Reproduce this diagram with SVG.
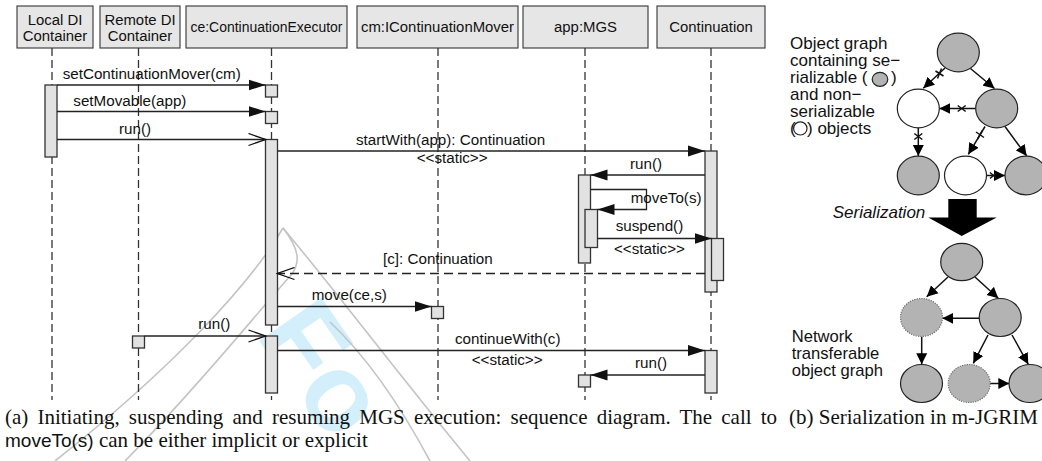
<svg xmlns="http://www.w3.org/2000/svg" width="1042" height="461" viewBox="0 0 1042 461">
<style>
  .hdr { fill:#e6e6e6; stroke:#444; stroke-width:1.2; }
  .life { stroke:#333; stroke-width:1.3; stroke-dasharray:8 4; fill:none; }
  .act { fill:#e2e2e2; stroke:#333; stroke-width:1.3; }
  .msg { stroke:#222; stroke-width:1.3; fill:none; }
  .ret { stroke:#222; stroke-width:1.3; fill:none; stroke-dasharray:9 5; }
  .sync { marker-end:url(#filled); }
  .async { marker-end:url(#open); }
  text { font-family:"Liberation Sans", Arial, Helvetica, sans-serif; fill:#111; }
  .h { font-size:14.9px; text-anchor:middle; }
  .m { font-size:15.2px; }
  .g { font-size:17px; }
  .g2 { font-size:16.6px; }
  .it { font-style:italic; }
  .cap { font-family:"Liberation Serif", "Times New Roman", serif; font-size:21px; }
  .capsans { font-family:"Liberation Sans", Arial, sans-serif; font-size:19px; }
  .gray { fill:#b3b3b3; stroke:#222; stroke-width:1.2; }
  .white { fill:#fff; stroke:#222; stroke-width:1.2; }
  .dot { fill:#b3b3b3; stroke:#6a6a6a; stroke-width:1.2; stroke-dasharray:1.2 1.2; }
  .edge { stroke:#111; stroke-width:1.5; fill:none; marker-end:url(#tri); }
  .x { stroke:#111; stroke-width:1.5; fill:none; }
  .wm { fill:none; stroke:#c4c4c4; stroke-width:1.6; }
</style>
<defs>
  <marker id="filled" markerUnits="userSpaceOnUse" markerWidth="18" markerHeight="12" refX="17" refY="6" orient="auto">
    <path d="M0,0.5 L17,6 L0,11.5 z" fill="#111"/>
  </marker>
  <marker id="open" markerUnits="userSpaceOnUse" markerWidth="19" markerHeight="14" refX="17.5" refY="7" orient="auto">
    <path d="M0.5,1 L17.5,7 L0.5,13" fill="none" stroke="#111" stroke-width="1.3"/>
  </marker>
  <marker id="tri" markerUnits="userSpaceOnUse" markerWidth="12" markerHeight="12" refX="11" refY="6" orient="auto">
    <path d="M0,0.5 L11,6 L0,11.5 z" fill="#000"/>
  </marker>
</defs>

<rect width="1042" height="461" fill="#fff"/>

<!-- background stamp -->
<g id="stamp">
  <text x="255" y="335" transform="rotate(55 255 335)" style="font-family:'Liberation Sans',Arial,sans-serif;font-weight:bold;font-size:110px;fill:#d3effc">Fo</text>
  <path class="wm" d="M283,228 C250,285 170,370 55,461"/>
  <path class="wm" d="M283,228 C300,250 300,262 292,274"/>
  <path class="wm" d="M292,274 C255,315 200,385 125,461"/>
  <path class="wm" d="M283,228 C335,290 395,370 470,461"/>
  <path class="wm" d="M330,322 C365,355 400,405 430,461"/>
</g>

<!-- lifelines -->
<g id="local-di">
  <rect class="hdr" x="17" y="6" width="76" height="42"/>
  <text class="h" x="55" y="24.5">Local DI</text>
  <text class="h" x="55" y="40.5">Container</text>
  <line class="life" x1="52" y1="48" x2="52" y2="400"/>
  <rect class="act" x="45" y="85" width="12" height="72"/>
</g>
<g id="remote-di">
  <rect class="hdr" x="100" y="6" width="80" height="42"/>
  <text class="h" x="140" y="24.5">Remote DI</text>
  <text class="h" x="140" y="40.5">Container</text>
  <line class="life" x1="138.5" y1="48" x2="138.5" y2="400"/>
  <rect class="act" x="132.5" y="336" width="12" height="12"/>
</g>
<g id="executor">
  <rect class="hdr" x="186" y="6" width="161" height="42"/>
  <text class="h" x="266.5" y="32" textLength="152" lengthAdjust="spacingAndGlyphs">ce:ContinuationExecutor</text>
  <line class="life" x1="271.5" y1="48" x2="271.5" y2="400"/>
  <rect class="act" x="265.5" y="85" width="12" height="12"/>
  <rect class="act" x="265.5" y="111.5" width="12" height="12"/>
  <rect class="act" x="265.5" y="139.5" width="12" height="185.5"/>
  <rect class="act" x="265.5" y="336" width="12" height="57"/>
</g>
<g id="mover">
  <rect class="hdr" x="357" y="6" width="161" height="42"/>
  <text class="h" x="437.5" y="32">cm:IContinuationMover</text>
  <line class="life" x1="438" y1="48" x2="438" y2="400"/>
  <rect class="act" x="431.5" y="306.5" width="12" height="12"/>
</g>
<g id="mgs">
  <rect class="hdr" x="523" y="6" width="125" height="42"/>
  <text class="h" x="585.5" y="32">app:MGS</text>
  <line class="life" x1="585" y1="48" x2="585" y2="400"/>
  <rect class="act" x="578.5" y="175" width="12" height="88"/>
  <rect class="act" x="585" y="209.5" width="12.5" height="38"/>
  <rect class="act" x="578.5" y="375" width="12" height="12"/>
</g>
<g id="continuation">
  <rect class="hdr" x="657" y="6" width="108" height="42"/>
  <text class="h" x="711" y="32">Continuation</text>
  <line class="life" x1="711" y1="48" x2="711" y2="400"/>
  <rect class="act" x="705" y="151" width="12" height="141"/>
  <rect class="act" x="711.5" y="238.5" width="12" height="42"/>
  <rect class="act" x="705" y="350.5" width="12" height="42.5"/>
</g>

<!-- messages -->
<g id="messages">
  <path class="msg sync" d="M57,85 H265.5"/>
  <text class="m" x="62.7" y="79">setContinuationMover(cm)</text>
  <path class="msg sync" d="M57,111.5 H265.5"/>
  <text class="m" x="73.3" y="105.5">setMovable(app)</text>
  <path class="msg async" d="M57,139.5 H265.5"/>
  <text class="m" x="119" y="133.5">run()</text>
  <path class="msg sync" d="M277.5,151 H705"/>
  <text class="m" x="356" y="145">startWith(app): Continuation</text>
  <text class="m" x="416.7" y="163">&lt;&lt;static&gt;&gt;</text>
  <path class="msg sync" d="M705,175 H590.5"/>
  <text class="m" x="630" y="168.5">run()</text>
  <path class="msg sync" d="M590.5,189.5 H646.5 V209.5 H597.5"/>
  <text class="m" x="630.7" y="203">moveTo(s)</text>
  <path class="msg sync" d="M597.5,238.5 H711.5"/>
  <text class="m" x="615.7" y="231">suspend()</text>
  <text class="m" x="614" y="253.5">&lt;&lt;static&gt;&gt;</text>
  <path class="ret async" d="M705,273.5 H277.5"/>
  <text class="m" x="383" y="264">[c]: Continuation</text>
  <path class="msg sync" d="M277.5,306.5 H431.5"/>
  <text class="m" x="311.7" y="300">move(ce,s)</text>
  <path class="msg async" d="M144.5,336 H265.5"/>
  <text class="m" x="198.3" y="328.5">run()</text>
  <path class="msg sync" d="M277.5,350.5 H705"/>
  <text class="m" x="455" y="343.5">continueWith(c)</text>
  <text class="m" x="471.7" y="364.5">&lt;&lt;static&gt;&gt;</text>
  <path class="msg sync" d="M705,375 H590.5"/>
  <text class="m" x="635" y="368">run()</text>
</g>

<!-- object graph legend -->
<g id="legend-top">
  <text class="g" x="790" y="48.5">Object graph</text>
  <text class="g" x="790" y="65.5">containing se−</text>
  <text class="g" x="790" y="82.5">rializable (</text>
  <ellipse class="gray" cx="880" cy="79.3" rx="7.8" ry="7"/>
  <text class="g" x="891" y="82.5">)</text>
  <text class="g" x="790" y="99.5">and non−</text>
  <text class="g" x="790" y="116.5">serializable</text>
  <text class="g" x="790" y="133.5">(</text>
  <ellipse class="white" cx="800.3" cy="128.4" rx="6.7" ry="6.6"/>
  <text class="g" x="807" y="133.5">) objects</text>
</g>

<!-- graph before serialization -->
<g id="graph-before-edges">
  <path class="edge" d="M945,68 L923.3,88.3"/>
  <path class="x" d="M935.5,71 L943.5,76 M937.5,78.5 L941.5,68.5"/>
  <path class="edge" d="M970.5,68.5 L994.5,88.5"/>
  <path class="edge" d="M975.7,108.5 L939.3,108.5"/>
  <path class="x" d="M957.7,105.5 L965.7,111.5 M957.7,111.5 L965.7,105.5"/>
  <path class="edge" d="M918.3,127.7 L918.3,156"/>
  <path class="x" d="M914.3,133.5 L922.3,139.5 M914.3,139.5 L922.3,133.5"/>
  <path class="edge" d="M985,126.5 L968.3,154.3"/>
  <path class="x" d="M976,132 L984,137.5 M977.5,139 L982.5,130.5"/>
  <path class="edge" d="M1005,126.5 L1026.7,156"/>
  <path class="edge" d="M986.7,175.5 L1005,175.5"/>
  <path class="x" d="M990,172.5 L997,178.5 M990,178.5 L997,172.5"/>
</g>
<g id="obj-a"><ellipse class="gray" cx="958.3" cy="52.5" rx="21" ry="19.3"/></g>
<g id="obj-b"><ellipse class="white" cx="918.3" cy="108.5" rx="21" ry="19.3"/></g>
<g id="obj-c"><ellipse class="gray" cx="996.7" cy="108.5" rx="21" ry="19.3"/></g>
<g id="obj-d"><ellipse class="gray" cx="918.3" cy="175.5" rx="21" ry="19.3"/></g>
<g id="obj-e"><ellipse class="white" cx="965.5" cy="175.5" rx="21" ry="19.3"/></g>
<g id="obj-f"><ellipse class="gray" cx="1026" cy="175.5" rx="21" ry="19.3"/></g>

<!-- serialization step -->
<g id="serialization">
  <text class="g it" x="832.7" y="218">Serialization</text>
  <polygon points="948.3,199 976.7,199 976.7,217.5 996.7,217.5 961.7,236 928.3,217.5 948.3,217.5" fill="#000"/>
</g>

<!-- graph after serialization -->
<g id="graph-after-edges">
  <path class="edge" d="M948,277 L926.7,296.7"/>
  <path class="edge" d="M975,277 L998.3,298.3"/>
  <path class="edge" d="M979.3,318.3 L942.3,318.3"/>
  <path class="edge" d="M921.7,336.7 L921.7,364.3"/>
  <path class="edge" d="M988,335 L973.3,363.3"/>
  <path class="edge" d="M1012,335 L1028.3,364.3"/>
  <path class="edge" d="M990,383.5 L1009.3,383.5"/>
</g>
<g id="obj-a2"><ellipse class="gray" cx="961.7" cy="262" rx="21" ry="18.7"/></g>
<g id="obj-b2"><ellipse class="dot" cx="921.5" cy="317.5" rx="21" ry="19"/></g>
<g id="obj-c2"><ellipse class="gray" cx="1000.2" cy="317.5" rx="21" ry="19"/></g>
<g id="obj-d2"><ellipse class="gray" cx="921.5" cy="383.5" rx="21" ry="19"/></g>
<g id="obj-e2"><ellipse class="dot" cx="969.2" cy="383.5" rx="21" ry="19"/></g>
<g id="obj-f2"><ellipse class="gray" cx="1030" cy="383.5" rx="21" ry="19"/></g>
<g id="legend-bottom">
  <text class="g2" x="791.7" y="341.5">Network</text>
  <text class="g2" x="791.7" y="358.5">transferable</text>
  <text class="g2" x="791.7" y="375.5">object graph</text>
</g>

<!-- captions -->
<g id="captions">
  <text class="cap" x="5" y="424" word-spacing="3.9">(a) Initiating, suspending and resuming MGS execution: sequence diagram. The call to</text>
  <text x="5" y="447"><tspan class="capsans">moveTo(s)</tspan><tspan class="cap"> can be either implicit or explicit</tspan></text>
  <text class="cap" x="789" y="424">(b) Serialization in m-JGRIM</text>
</g>
</svg>
